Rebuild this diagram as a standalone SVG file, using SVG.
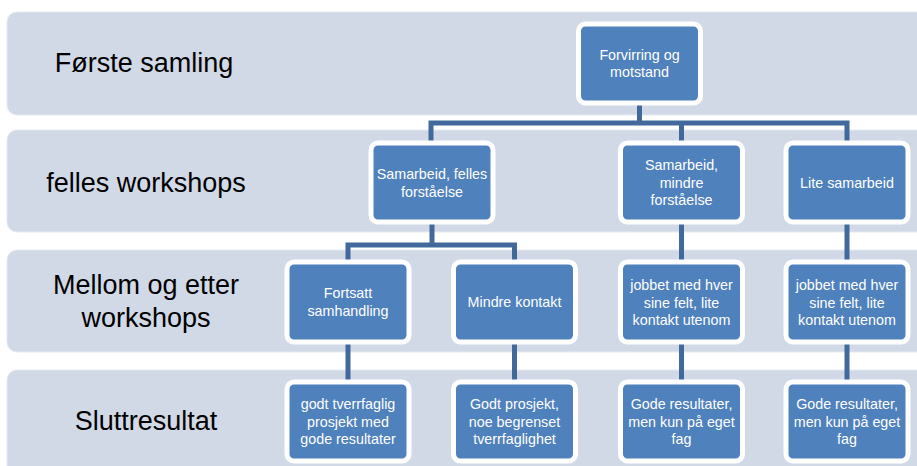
<svg xmlns="http://www.w3.org/2000/svg" width="917" height="466" viewBox="0 0 917 466">
<style>
.band{fill:#d1d9e7;stroke:#e4e9f2;stroke-width:1}
.lbl{font-family:"Liberation Sans",Arial,sans-serif;font-size:27px;fill:#000;text-anchor:middle}
.box{fill:#4f81bd;stroke:#fff;stroke-width:5}
.t{font-family:"Liberation Sans",Arial,sans-serif;font-size:14.3px;fill:#fff;text-anchor:middle}
.con{fill:none;stroke:#41699c;stroke-width:5;stroke-linecap:butt;stroke-linejoin:miter}
</style>
<rect width="917" height="466" fill="#fff"/>
<g id="bands">
<rect class="band" x="7" y="12" width="930" height="103" rx="10"/>
<rect class="band" x="7" y="130" width="930" height="102" rx="10"/>
<rect class="band" x="7" y="250" width="930" height="102" rx="10"/>
<rect class="band" x="7" y="370" width="930" height="110" rx="10"/>
</g>
<g id="labels">
<text class="lbl" x="144" y="72">Første samling</text>
<text class="lbl" x="146" y="192">felles workshops</text>
<text class="lbl" x="146" y="294">Mellom og etter</text>
<text class="lbl" x="146" y="327">workshops</text>
<text class="lbl" x="146" y="430">Sluttresultat</text>
</g>
<g id="connectors">
<path class="con" d="M639.5,103 V123 M431,143 V123 H847 V143 M681.5,123 V143"/>
<path class="con" d="M432,222 V245 M348,262 V245 H514.5 V262"/>
<path class="con" d="M681.5,222 V262 M847,222 V262"/>
<path class="con" d="M348,342 V382 M514.5,342 V382 M681.5,342 V382 M847,342 V382"/>
</g>
<g id="n-forvirring">
<rect class="box" x="578.5" y="24" width="122" height="79" rx="7"/>
<text class="t" x="639.5" y="60">Forvirring og</text>
<text class="t" x="639.5" y="77">motstand</text>
</g>
<g id="n-samarbeid-felles">
<rect class="box" x="371" y="143" width="122" height="79" rx="7"/>
<text class="t" x="432" y="179">Samarbeid, felles</text>
<text class="t" x="432" y="197">forståelse</text>
</g>
<g id="n-samarbeid-mindre">
<rect class="box" x="620.5" y="143" width="122" height="79" rx="7"/>
<text class="t" x="681.5" y="170">Samarbeid,</text>
<text class="t" x="681.5" y="187.5">mindre</text>
<text class="t" x="681.5" y="205">forståelse</text>
</g>
<g id="n-lite-samarbeid">
<rect class="box" x="786" y="143" width="122" height="79" rx="7"/>
<text class="t" x="847" y="188">Lite samarbeid</text>
</g>
<g id="n-fortsatt">
<rect class="box" x="287" y="262" width="122" height="80" rx="7"/>
<text class="t" x="348" y="298">Fortsatt</text>
<text class="t" x="348" y="316">samhandling</text>
</g>
<g id="n-mindre-kontakt">
<rect class="box" x="453.5" y="262" width="122" height="80" rx="7"/>
<text class="t" x="514.5" y="307">Mindre kontakt</text>
</g>
<g id="n-jobbet-1">
<rect class="box" x="620.5" y="262" width="122" height="80" rx="7"/>
<text class="t" x="681.5" y="290">jobbet med hver</text>
<text class="t" x="681.5" y="307.5">sine felt, lite</text>
<text class="t" x="681.5" y="325">kontakt utenom</text>
</g>
<g id="n-jobbet-2">
<rect class="box" x="786" y="262" width="122" height="80" rx="7"/>
<text class="t" x="847" y="290">jobbet med hver</text>
<text class="t" x="847" y="307.5">sine felt, lite</text>
<text class="t" x="847" y="325">kontakt utenom</text>
</g>
<g id="n-godt-tverrfaglig">
<rect class="box" x="287" y="382" width="122" height="79" rx="7"/>
<text class="t" x="348" y="409">godt tverrfaglig</text>
<text class="t" x="348" y="426.5">prosjekt med</text>
<text class="t" x="348" y="444">gode resultater</text>
</g>
<g id="n-godt-prosjekt">
<rect class="box" x="453.5" y="382" width="122" height="79" rx="7"/>
<text class="t" x="514.5" y="409">Godt prosjekt,</text>
<text class="t" x="514.5" y="426.5">noe begrenset</text>
<text class="t" x="514.5" y="444">tverrfaglighet</text>
</g>
<g id="n-gode-1">
<rect class="box" x="620.5" y="382" width="122" height="79" rx="7"/>
<text class="t" x="681.5" y="409">Gode resultater,</text>
<text class="t" x="681.5" y="426.5">men kun på eget</text>
<text class="t" x="681.5" y="444">fag</text>
</g>
<g id="n-gode-2">
<rect class="box" x="786" y="382" width="122" height="79" rx="7"/>
<text class="t" x="847" y="409">Gode resultater,</text>
<text class="t" x="847" y="426.5">men kun på eget</text>
<text class="t" x="847" y="444">fag</text>
</g>
</svg>
